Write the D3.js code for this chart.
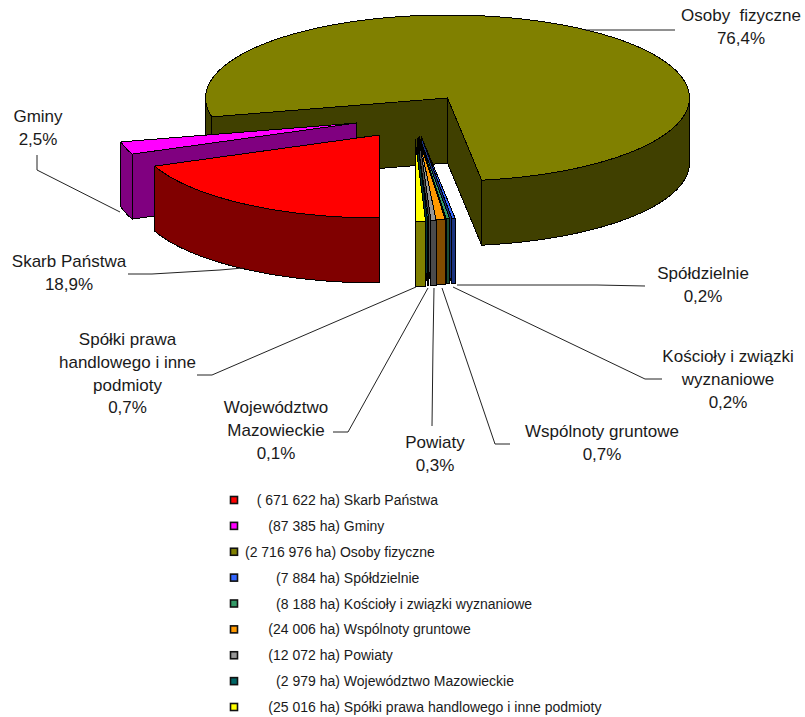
<!DOCTYPE html>
<html>
<head>
<meta charset="utf-8">
<script src="https://cdn.jsdelivr.net/npm/d3@7"></script>
<style>
  html, body { margin: 0; padding: 0; background: #fff; }
  svg { display: block; }
  text { font-family: "Liberation Sans", Arial, sans-serif; fill: #1a1a1a; }
</style>
</head>
<body>
<div id="chart"></div>
<script>
// Dane: powierzchnia wg form wlasnosci (ha)
const categories = ['Skarb Państwa', 'Gminy', 'Osoby fizyczne', 'Spółdzielnie', 'Kościoły i związki wyznaniowe',
    'Wspólnoty gruntowe', 'Powiaty', 'Województwo Mazowieckie', 'Spółki prawa handlowego i inne podmioty'];
const areas = [671622, 87385, 2716976, 7884, 8188, 24006, 12072, 2979, 25016];
const sliceColors = ['#ff0000', '#ff00ff', '#808000', '#3366ff', '#339966', '#ff9900', '#969696', '#006666', '#ffff00'];
const wallColors = ['#800000', '#800080', '#404000', '#1a3380', '#1a4d33', '#804c00', '#4b4b4b', '#003333', '#808000'];
const labelLines = [
    ['Skarb Państwa'], ['Gminy'], ['Osoby  fizyczne'], ['Spółdzielnie'], ['Kościoły i związki', 'wyznaniowe'],
    ['Wspólnoty gruntowe'], ['Powiaty'], ['Województwo', 'Mazowieckie'], ['Spółki prawa', 'handlowego i inne', 'podmioty']
];
const legendLabels = [
    '   ( 671 622 ha) Skarb Państwa',
    '      (87 385 ha) Gminy',
    '(2 716 976 ha) Osoby fizyczne',
    '        (7 884 ha) Spółdzielnie',
    '        (8 188 ha) Kościoły i związki wyznaniowe',
    '      (24 006 ha) Wspólnoty gruntowe',
    '      (12 072 ha) Powiaty',
    '        (2 979 ha) Województwo Mazowieckie',
    '      (25 016 ha) Spółki prawa handlowego i inne podmioty'
];

// Uklad wykresu
const width = 805, height = 717;
const center = { x: 447.5, y: 98 };
const rx = 242, ry = 83, depth = 65;
// przesuniecie wycinkow wzgledem srodka (dx, dy)
const explode = [[-68.5, 37], [-91, 25], [0, 0], [-26.5, 38], [-28.5, 38.5], [-29.5, 39], [-28.5, 39.5], [-30.5, 40], [-32.5, 41]];
const labelPos = [[69, 267], [38, 122], [741, 21], [703, 279], [728, 362], [602, 437], [435, 448], [276, 413], [127.5, 345]];
const leaders = [
    [[128, 274], [152, 274], [186, 272], [220, 270], [243, 268]],
    [[37, 155], [37, 170], [120, 212]],
    [[675, 30], [585, 30]],
    [[645, 286], [597, 285], [457, 285]],
    [[662, 379], [645, 379], [453, 287]],
    [[510, 444], [495, 444], [442, 288]],
    [[432, 426], [433, 345], [434, 288]],
    [[333, 432], [348, 432], [428, 288]],
    [[197, 375], [212, 375], [416, 287]]
];
const paintOrder = [2, 1, 0, 3, 4, 5, 6, 7, 8];
const percent = d3.formatLocale({ decimal: ',', thousands: ' ', grouping: [3], currency: ['', ''] }).format('.1f');

const svg = d3.select('#chart').append('svg').attr('width', width).attr('height', height);

// Katy z d3.pie - start od dolu, zgodnie ze wskazowkami zegara
const total = d3.sum(areas);
const arcs = d3.pie().sort(null).startAngle(Math.PI).endAngle(3 * Math.PI)(areas);
const line = d3.line();

function rimPoint(angle, o, dz) {
    return [center.x + o[0] + Math.sin(angle) * rx, center.y + o[1] - Math.cos(angle) * ry + dz];
}

function rimPoints(a0, a1, o, dz) {
    const n = Math.max(2, Math.ceil((a1 - a0) / 0.02));
    return d3.range(n + 1).map(i => rimPoint(a0 + (a1 - a0) * i / n, o, dz));
}

function outline(sel, pts, fill) {
    sel.append('path')
        .attr('d', line(pts) + 'Z')
        .style('fill', fill)
        .style('stroke', '#000')
        .style('stroke-width', 1)
        .style('stroke-linejoin', 'round')
        .style('shape-rendering', 'crispEdges');
}

// Rysowanie wycinkow od tylu do przodu
paintOrder.forEach(i => {
    const d = arcs[i], o = explode[i];
    const g = svg.append('g').attr('class', 'slice');
    const apexTop = [center.x + o[0], center.y + o[1]];
    const apexBottom = [apexTop[0], apexTop[1] + depth];

    // sciany przekroju - najpierw ta polozona dalej
    [d.startAngle, d.endAngle]
        .sort((a, b) => rimPoint(a, o, 0)[1] - rimPoint(b, o, 0)[1])
        .forEach(a => {
            outline(g, [apexTop, rimPoint(a, o, 0), rimPoint(a, o, depth), apexBottom], wallColors[i]);
        });

    // sciana zewnetrzna - tylko przednia polowa elipsy (od 90 do 270 stopni)
    [[Math.PI / 2, 3 * Math.PI / 2], [5 * Math.PI / 2, 7 * Math.PI / 2]].forEach(r => {
        const a0 = Math.max(d.startAngle, r[0]), a1 = Math.min(d.endAngle, r[1]);
        if (a1 > a0) {
            outline(g, rimPoints(a0, a1, o, 0).concat(rimPoints(a0, a1, o, depth).reverse()), wallColors[i]);
        }
    });

    // gorna powierzchnia
    outline(g, [apexTop].concat(rimPoints(d.startAngle, d.endAngle, o, 0)), sliceColors[i]);
});

// Linie odniesienia
svg.append('g').selectAll('path')
    .data(leaders)
    .enter()
    .append('path')
    .attr('d', d => line(d))
    .style('fill', 'none')
    .style('stroke', '#222')
    .style('stroke-width', 1);

// Etykiety danych
const labels = svg.append('g').selectAll('text')
    .data(categories)
    .enter()
    .append('text')
    .attr('text-anchor', 'middle')
    .style('font-size', '17px')
    .style('white-space', 'pre')
    .attr('transform', (d, i) => `translate(${labelPos[i][0]},${labelPos[i][1]})`);

labels.each(function(d, i) {
    const rows = labelLines[i].concat(percent(areas[i] / total * 100) + '%');
    d3.select(this).selectAll('tspan')
        .data(rows)
        .enter()
        .append('tspan')
        .attr('x', 0)
        .attr('y', (r, j) => j * 22.8)
        .text(r => r);
});

// Legenda
const legendY = d3.scalePoint().domain(d3.range(categories.length)).range([500, 707]);
const legend = svg.append('g').selectAll('g')
    .data(categories)
    .enter()
    .append('g')
    .attr('transform', (d, i) => `translate(229,${legendY(i)})`);

legend.append('rect')
    .attr('x', 1.5)
    .attr('y', -3.5)
    .attr('width', 7)
    .attr('height', 7)
    .style('fill', (d, i) => sliceColors[i])
    .style('stroke', '#111')
    .style('stroke-width', 1.6);

legend.append('text')
    .attr('x', 16)
    .attr('y', 5)
    .style('font-size', '14px')
    .style('white-space', 'pre')
    .text((d, i) => legendLabels[i]);
</script>
</body>
</html>
